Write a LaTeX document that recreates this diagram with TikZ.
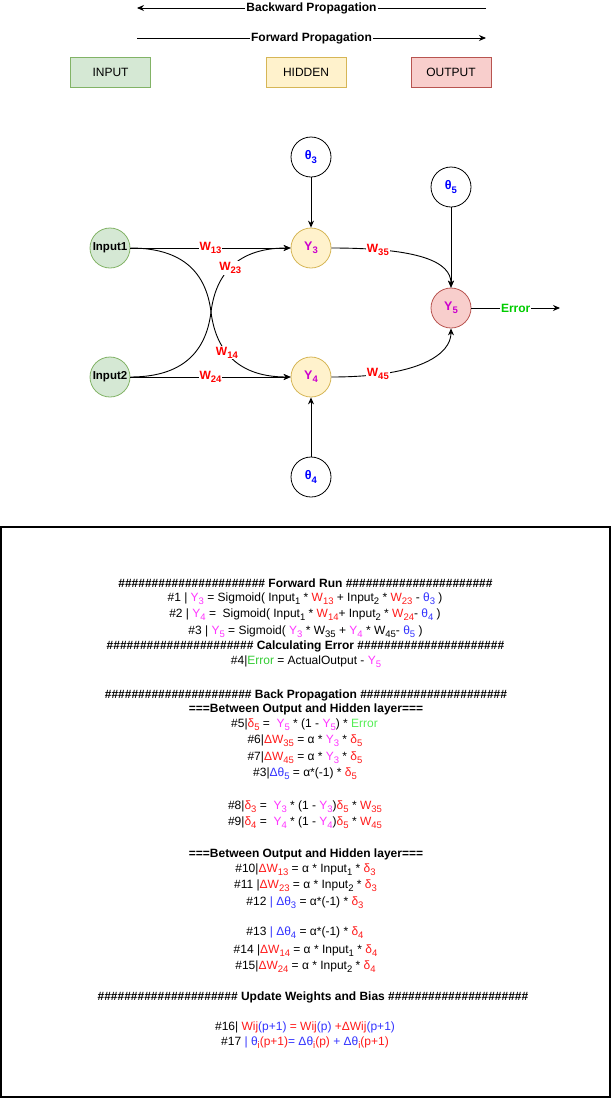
\documentclass[tikz,border=0pt]{standalone}
\usepackage{fontspec}
\setmainfont{Liberation Sans}
\usetikzlibrary{arrows.meta}
\definecolor{inlight}{HTML}{D5E8D4}
\definecolor{indark}{HTML}{82B366}
\definecolor{hidlight}{HTML}{FFF2CC}
\definecolor{hiddark}{HTML}{D6B656}
\definecolor{outlight}{HTML}{F8CECC}
\definecolor{outdark}{HTML}{B85450}
\definecolor{nmag}{HTML}{CC00CC}
\definecolor{nblue}{HTML}{0000FF}
\definecolor{wred}{HTML}{FF0000}
\definecolor{ngreen}{HTML}{00CC00}
\definecolor{fmag}{HTML}{FF33FF}
\definecolor{fred}{HTML}{FF1A1A}
\definecolor{fblue}{HTML}{3333FF}
\definecolor{fgreenA}{HTML}{33CC33}
\definecolor{fgreenB}{HTML}{55EE55}
\newcommand{\sbs}[1]{\raisebox{-0.25em}{\fontsize{9.5}{10}\selectfont #1}}
\newcommand{\cM}[1]{\textcolor{fmag}{#1}}
\newcommand{\cR}[1]{\textcolor{fred}{#1}}
\newcommand{\cB}[1]{\textcolor{fblue}{#1}}
\newcommand{\hashes}{\#\#\#\#\#\#\#\#\#\#\#\#\#\#\#\#\#\#\#\#\#\#}
\newcommand{\hashesb}{\#\#\#\#\#\#\#\#\#\#\#\#\#\#\#\#\#\#\#\#\#}
\begin{document}
\begin{tikzpicture}[x=1pt,y=-1pt,
  font=\fontsize{12}{14}\selectfont,
  arr/.style={line width=0.9pt,-{Stealth[length=7pt,width=6pt]}},
  circ/.style={circle, minimum size=40pt, inner sep=0pt, line width=0.8pt},
  inp/.style={circ, draw=indark, fill=inlight, font=\fontsize{11.5}{13}\selectfont\bfseries},
  hid/.style={circ, draw=hiddark, fill=hidlight, font=\fontsize{12.5}{14}\selectfont\bfseries, text=nmag},
  outn/.style={circ, draw=outdark, fill=outlight, font=\fontsize{12.5}{14}\selectfont\bfseries, text=nmag},
  bias/.style={circ, draw=black, fill=white, font=\fontsize{12.5}{14}\selectfont\bfseries, text=nblue},
  lgbox/.style={rectangle, minimum width=80pt, minimum height=30pt, line width=0.8pt},
  wl/.style={fill=white, inner sep=1pt, text=wred, font=\fontsize{12}{14}\selectfont\bfseries},
  plbl/.style={fill=white, inner sep=1pt, font=\fontsize{12}{14}\selectfont\bfseries},
  fl/.style={anchor=base, inner sep=0pt, font=\fontsize{12}{14}\selectfont},
  hl/.style={anchor=base, inner sep=0pt, font=\fontsize{12}{14}\selectfont\bfseries}]
\useasboundingbox (0,0) rectangle (611,1098);

% propagation arrows
\coordinate (bwR) at (486,8);
\coordinate (bwL) at (137,8);
\coordinate (fwL) at (137,38);
\coordinate (fwR) at (486,38);
\draw[arr] (bwR) -- (bwL) node[plbl, pos=0.5] (bwlab) {Backward Propagation};
\draw[arr] (fwL) -- (fwR) node[plbl, pos=0.5] (fwlab) {Forward Propagation};

% legend
\node[lgbox, draw=indark, fill=inlight] (lgin) at (110.5,72.5) {INPUT};
\node[lgbox, draw=hiddark, fill=hidlight] (lghid) at (306,72.5) {HIDDEN};
\node[lgbox, draw=outdark, fill=outlight] (lgout) at (451,72.5) {OUTPUT};

% network nodes
\node[inp] (in1) at (110,248) {Input1};
\node[inp] (in2) at (110,377) {Input2};
\node[hid] (y3) at (311,248) {Y\sbs{3}};
\node[hid] (y4) at (311,377) {Y\sbs{4}};
\node[outn] (y5) at (451,308) {Y\sbs{5}};
\node[bias] (t3) at (311,157) {θ\sbs{3}};
\node[bias] (t5) at (451,187) {θ\sbs{5}};
\node[bias] (t4) at (311,477) {θ\sbs{4}};
\coordinate (xc) at (211,312);
\coordinate (err) at (560,308);

% connectors
\draw[arr] (in1) -- (y3) node[wl, pos=0.5] (w13) {W\sbs{13}};
\draw[arr] (in2) -- (y4) node[wl, pos=0.5] (w24) {W\sbs{24}};
\draw[arr] (in1.east) .. controls (190,248) and (207,280) .. (xc)
   .. controls (215,344) and (232,377) .. (y4.west) node[wl, pos=0.45] (w14) {W\sbs{14}};
\draw[arr] (in2.east) .. controls (190,377) and (207,344) .. (xc)
   .. controls (215,280) and (232,248) .. (y3.west) node[wl, pos=0.5] (w23) {W\sbs{23}};
\draw[arr] (y3.east) .. controls (420,248) and (451,262) .. (y5.north) node[wl, pos=0.2] (w35) {W\sbs{35}};
\draw[arr] (y4.east) .. controls (420,377) and (451,354) .. (y5.south) node[wl, pos=0.2] (w45) {W\sbs{45}};
\draw[arr] (t3) -- (y3);
\draw[arr] (t4) -- (y4);
\draw[arr] (t5) -- (y5);
\draw[arr] (y5) -- (err) node[wl, pos=0.5, text=ngreen] (errlab) {Error};

% formula box
\draw[line width=1.3pt] (1,527) rectangle (610,1097);

\node[hl] (l1) at (305.5,587) {\hashes{} Forward Run \hashes};
\node[fl] (l2) at (305,601.5) {\#1 | \cM{Y\sbs{3}} = Sigmoid( Input\sbs{1} * \cR{W\sbs{13}} + Input\sbs{2} * \cR{W\sbs{23}} - \cB{θ\sbs{3}} )};
\node[fl] (l3) at (305,617.5) {\#2 | \cM{Y\sbs{4}} =\ \ Sigmoid( Input\sbs{1} * \cR{W\sbs{14}}+ Input\sbs{2} * \cR{W\sbs{24}}- \cB{θ\sbs{4}} )};
\node[fl] (l4) at (305.5,634) {\#3 | \cM{Y\sbs{5}} = Sigmoid( \cM{Y\sbs{3}} * W\sbs{35} + \cM{Y\sbs{4}} * W\sbs{45}- \cB{θ\sbs{5}} )};
\node[hl] (l5) at (305.5,649.5) {\hashes{} Calculating Error \hashes};
\node[fl] (l6) at (306,664) {\#4|\textcolor{fgreenA}{Error} = ActualOutput - \cM{Y\sbs{5}}};

\node[hl] (l7) at (306,698) {\hashes{} Back Propagation \hashes};
\node[hl] (l8) at (306,712.5) {===Between Output and Hidden layer===};
\node[fl] (l9) at (304.5,727) {\#5|\cR{δ\sbs{5}} =\ \ \cM{Y\sbs{5}} * (1 - \cM{Y\sbs{5}}) * \textcolor{fgreenB}{Error}};
\node[fl] (l10) at (305,743) {\#6|\cR{ΔW\sbs{35}} = α * \cM{Y\sbs{3}} * \cR{δ\sbs{5}}};
\node[fl] (l11) at (305,760.5) {\#7|\cR{ΔW\sbs{45}} = α * \cM{Y\sbs{3}} * \cR{δ\sbs{5}}};
\node[fl] (l12) at (305,776.5) {\#3|\cB{Δθ\sbs{5}} = α*(-1) * \cR{δ\sbs{5}}};
\node[fl] (l13) at (305,809) {\#8|\cR{δ\sbs{3}} =\ \ \cM{Y\sbs{3}} * (1 - \cM{Y\sbs{3}})\cR{δ\sbs{5}} * \cR{W\sbs{35}}};
\node[fl] (l14) at (305,825.5) {\#9|\cR{δ\sbs{4}} =\ \ \cM{Y\sbs{4}} * (1 - \cM{Y\sbs{4}})\cR{δ\sbs{5}} * \cR{W\sbs{45}}};

\node[hl] (l15) at (306,857) {===Between Output and Hidden layer===};
\node[fl] (l16) at (305.5,872) {\#10|\cR{ΔW\sbs{13}} = α * Input\sbs{1} * \cR{δ\sbs{3}}};
\node[fl] (l17) at (305.5,888) {\#11 |\cR{ΔW\sbs{23}} = α * Input\sbs{2} * \cR{δ\sbs{3}}};
\node[fl] (l18) at (305,905) {\#12 \cB{| Δθ\sbs{3}} = α*(-1) * \cR{δ\sbs{3}}};
\node[fl] (l19) at (305,935.5) {\#13 \cB{| Δθ\sbs{4}} = α*(-1) * \cR{δ\sbs{4}}};
\node[fl] (l20) at (305.5,953) {\#14 |\cR{ΔW\sbs{14}} = α * Input\sbs{1} * \cR{δ\sbs{4}}};
\node[fl] (l21) at (305.5,969.5) {\#15|\cR{ΔW\sbs{24}} = α * Input\sbs{2} * \cR{δ\sbs{4}}};

\node[hl] (l22) at (313,1000.5) {\hashesb{} Update Weights and Bias \hashesb};
\node[fl] (l23) at (305,1030.5) {\#16| \cR{Wij}\cB{(p+1)} \cR{= Wij}\cB{(p)} \cR{+ΔWij}\cB{(p+1)}};
\node[fl] (l24) at (305,1045.5) {\#17 \cB{| θ}\cR{\sbs{i}(p+1)}\cB{= Δθ}\cR{\sbs{i}(p)} \cB{+ Δθ}\cR{\sbs{i}(p+1)}};
\end{tikzpicture}
\end{document}
